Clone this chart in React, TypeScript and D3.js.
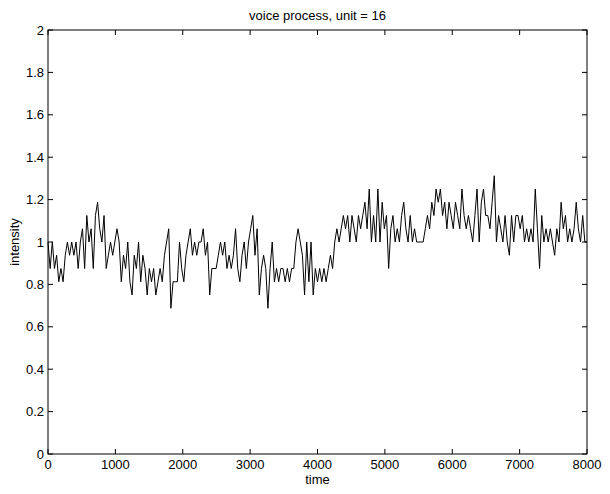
import React from "react";
import * as d3 from "d3";

// Quantised intensity, stored as integer levels (value = level / unit)
const unit = 16;
const sampleStep = 32;
const levels: number[] = [
  // 0 – 896
  16, 14, 16, 14, 15, 13, 14, 13, 15, 16, 15, 16, 15, 16, 14, 16, 17, 14, 18, 16, 17, 14, 18, 19, 17, 16, 18, 14, 15,
  // 928 – 1920
  16, 15, 16, 17, 16, 13, 15, 14, 16, 13, 12, 15, 14, 16, 13, 15, 14, 12, 14, 13, 14, 12, 13, 14, 13, 15, 16, 17, 11, 13, 13, 13,
  // 1952 – 2912
  16, 14, 13, 15, 16, 17, 15, 16, 15, 16, 16, 17, 15, 16, 12, 14, 14, 14, 15, 16, 15, 16, 14, 15, 14, 15, 17, 14, 13, 15, 16,
  // 2944 – 3936
  14, 16, 17, 18, 15, 17, 12, 14, 15, 14, 11, 14, 16, 13, 14, 13, 14, 14, 13, 14, 13, 14, 14, 16, 17, 16, 15, 12, 16, 13, 16, 12,
  // 3968 – 4928
  14, 13, 14, 13, 14, 13, 14, 15, 14, 16, 17, 16, 17, 18, 17, 18, 16, 18, 17, 16, 18, 17, 18, 19, 17, 20, 16, 18, 16, 20, 16,
  // 4960 – 5952
  19, 17, 18, 14, 17, 18, 16, 17, 16, 18, 19, 17, 16, 18, 16, 17, 16, 16, 16, 16, 17, 18, 17, 19, 18, 20, 19, 20, 18, 19, 17, 19,
  // 5984 – 6944
  18, 17, 19, 18, 17, 20, 18, 17, 18, 17, 16, 18, 20, 16, 19, 20, 18, 18, 17, 19, 21, 16, 18, 17, 16, 18, 16, 15, 18, 16, 18,
  // 6976 – 8000
  18, 17, 18, 16, 17, 16, 17, 16, 20, 17, 14, 18, 16, 17, 16, 17, 16, 15, 17, 16, 19, 17, 18, 16, 17, 16, 17, 19, 17, 16, 18, 16, 16,
];

const xTicks = [0, 1000, 2000, 3000, 4000, 5000, 6000, 7000, 8000];
const yTicks = [0, 0.2, 0.4, 0.6, 0.8, 1, 1.2, 1.4, 1.6, 1.8, 2];

const title = "voice process, unit = 16";
const xLabel = "time";
const yLabel = "intensity";

const W = 610;
const H = 494;
const plot = { left: 48, right: 587, top: 30, bottom: 454 };
const tickLen = 5;
const font = "'Liberation Sans', Arial, Helvetica, sans-serif";

export default function App() {
  const x = d3.scaleLinear().domain([0, 8000]).range([plot.left, plot.right]);
  const y = d3.scaleLinear().domain([0, 2]).range([plot.bottom, plot.top]);

  const points: [number, number][] = levels.map((k, i) => [i * sampleStep, k / unit]);
  const line = d3
    .line<[number, number]>()
    .x((d) => x(d[0]))
    .y((d) => y(d[1]));

  const fmtY = (v: number) => (Number.isInteger(v) ? String(v) : v.toFixed(1));

  return (
    <svg
      width={W}
      height={H}
      style={{ position: "absolute", left: 0, top: 0, background: "#fff" }}
      fontFamily={font}
      fontSize={13}
    >
      <rect x={0} y={0} width={W} height={H} fill="#fff" />
      <path d={line(points) ?? ""} fill="none" stroke="#000" strokeWidth={1} />

      {/* x ticks: inward on bottom and top */}
      {xTicks.map((t) => (
        <g key={"x" + t}>
          <line x1={x(t)} x2={x(t)} y1={plot.bottom} y2={plot.bottom - tickLen} stroke="#000" />
          <line x1={x(t)} x2={x(t)} y1={plot.top} y2={plot.top + tickLen} stroke="#000" />
          <text x={x(t)} y={plot.bottom + 15} textAnchor="middle" fill="#000">
            {t}
          </text>
        </g>
      ))}

      {/* y ticks: inward on left and right */}
      {yTicks.map((t) => (
        <g key={"y" + t}>
          <line x1={plot.left} x2={plot.left + tickLen} y1={y(t)} y2={y(t)} stroke="#000" />
          <line x1={plot.right} x2={plot.right - tickLen} y1={y(t)} y2={y(t)} stroke="#000" />
          <text x={plot.left - 4} y={y(t) + 4.5} textAnchor="end" fill="#000">
            {fmtY(t)}
          </text>
        </g>
      ))}

      <rect
        x={plot.left}
        y={plot.top}
        width={plot.right - plot.left}
        height={plot.bottom - plot.top}
        fill="none"
        stroke="#000"
        strokeWidth={1}
      />

      <text x={(plot.left + plot.right) / 2} y={20} textAnchor="middle" fill="#000">
        {title}
      </text>
      <text x={(plot.left + plot.right) / 2} y={plot.bottom + 30} textAnchor="middle" fill="#000">
        {xLabel}
      </text>
      <text
        transform={`translate(19, ${(plot.top + plot.bottom) / 2}) rotate(-90)`}
        textAnchor="middle"
        fill="#000"
      >
        {yLabel}
      </text>
    </svg>
  );
}
